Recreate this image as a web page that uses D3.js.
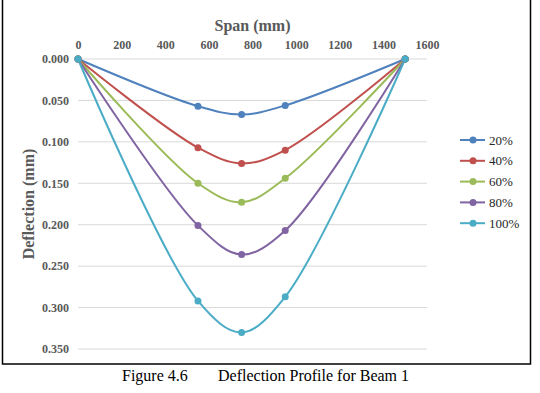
<!DOCTYPE html>
<html>
<head>
<meta charset="utf-8">
<script src="https://cdn.jsdelivr.net/npm/d3@7"></script>
<style>
  body { margin: 0; background: #fff; }
  text { font-family: "Liberation Serif", "Times New Roman", serif; }
</style>
</head>
<body>
<div id="chart"></div>
<script>
// span positions (mm)
const spans = [0, 550, 750, 950, 1500];
const seriesNames = ["20%", "40%", "60%", "80%", "100%"];
const defl20 = [0, 0.057, 0.067, 0.056, 0];
const defl40 = [0, 0.107, 0.126, 0.110, 0];
const defl60 = [0, 0.150, 0.173, 0.144, 0];
const defl80 = [0, 0.201, 0.236, 0.207, 0];
const defl100 = [0, 0.292, 0.330, 0.287, 0];
const colors = ["#4F81BD", "#C0504D", "#9BBB59", "#8064A2", "#4BACC6"];
const xTicks = [0, 200, 400, 600, 800, 1000, 1200, 1400, 1600];
const yTicks = [0, 0.05, 0.1, 0.15, 0.2, 0.25, 0.3, 0.35];

const allSeries = [defl20, defl40, defl60, defl80, defl100];

const W = 540, H = 393;
const margin = {top: 59, left: 78};
const width = 349;
const height = 290;

const svg = d3.select("#chart")
    .append("svg")
    .attr("width", W)
    .attr("height", H);

// chart frame
svg.append("rect")
    .attr("x", 2.5)
    .attr("y", -2)
    .attr("width", 528)
    .attr("height", 366)
    .attr("fill", "none")
    .attr("stroke", "#000")
    .attr("stroke-width", 1.5);

const g = svg.append("g")
    .attr("transform", `translate(${margin.left},${margin.top})`);

const x = d3.scaleLinear().domain([0, 1600]).range([0, width]);
const y = d3.scaleLinear().domain([0, 0.35]).range([0, height]);

// horizontal gridlines
g.selectAll(".grid")
    .data(yTicks)
    .enter()
    .append("line")
    .attr("x1", 0)
    .attr("x2", width)
    .attr("y1", d => y(d))
    .attr("y2", d => y(d))
    .attr("stroke", "#D9D9D9")
    .attr("stroke-width", 1);

// top axis labels
const xAxis = g.append("g")
    .call(d3.axisTop(x).tickValues(xTicks).tickSize(0).tickPadding(10).tickFormat(d3.format("d")));
xAxis.select(".domain").remove();
xAxis.selectAll("text")
    .style("font-family", "Liberation Serif, serif")
    .style("font-weight", "bold")
    .style("font-size", "12px")
    .attr("fill", "#595959");

// left axis labels
const yAxis = g.append("g")
    .call(d3.axisLeft(y).tickValues(yTicks).tickSize(0).tickPadding(9).tickFormat(d3.format(".3f")));
yAxis.select(".domain").remove();
yAxis.selectAll("text")
    .style("font-family", "Liberation Serif, serif")
    .style("font-weight", "bold")
    .style("font-size", "12px")
    .attr("fill", "#595959");

// axis titles
svg.append("text")
    .attr("x", margin.left + x(800))
    .attr("y", 31)
    .attr("text-anchor", "middle")
    .style("font-size", "16px")
    .style("font-weight", "bold")
    .attr("fill", "#595959")
    .text("Span (mm)");

svg.append("text")
    .attr("transform", "rotate(-90)")
    .attr("x", -204)
    .attr("y", 34)
    .attr("text-anchor", "middle")
    .style("font-size", "16px")
    .style("font-weight", "bold")
    .attr("fill", "#595959")
    .text("Deflection (mm)");

const line = d3.line()
    .x((d, i) => x(spans[i]))
    .y(d => y(d))
    .curve(d3.curveCatmullRom.alpha(0.5));

allSeries.forEach((vals, k) => {
    g.append("path")
        .datum(vals)
        .attr("fill", "none")
        .attr("stroke", colors[k])
        .attr("stroke-width", 2)
        .attr("d", line);
});

allSeries.forEach((vals, k) => {
    g.selectAll(".pt" + k)
        .data(vals)
        .enter()
        .append("circle")
        .attr("cx", (d, i) => x(spans[i]))
        .attr("cy", d => y(d))
        .attr("r", 3.5)
        .attr("fill", colors[k]);
});

// legend
const legend = svg.append("g")
    .attr("transform", "translate(460,140)");

seriesNames.forEach((name, k) => {
    const row = legend.append("g")
        .attr("transform", `translate(0,${k * 20.8})`);
    row.append("line")
        .attr("x1", 0)
        .attr("x2", 25)
        .attr("stroke", colors[k])
        .attr("stroke-width", 2);
    row.append("circle")
        .attr("cx", 13)
        .attr("r", 3.5)
        .attr("fill", colors[k]);
    row.append("text")
        .attr("x", 29)
        .attr("dy", "0.35em")
        .style("font-size", "13px")
        .attr("fill", "#262626")
        .text(name);
});

// caption
svg.append("text")
    .attr("x", 122)
    .attr("y", 381)
    .style("font-size", "16px")
    .attr("fill", "#000")
    .text("Figure 4.6");

svg.append("text")
    .attr("x", 218)
    .attr("y", 381)
    .style("font-size", "16px")
    .attr("fill", "#000")
    .text("Deflection Profile for Beam 1");
</script>
</body>
</html>
